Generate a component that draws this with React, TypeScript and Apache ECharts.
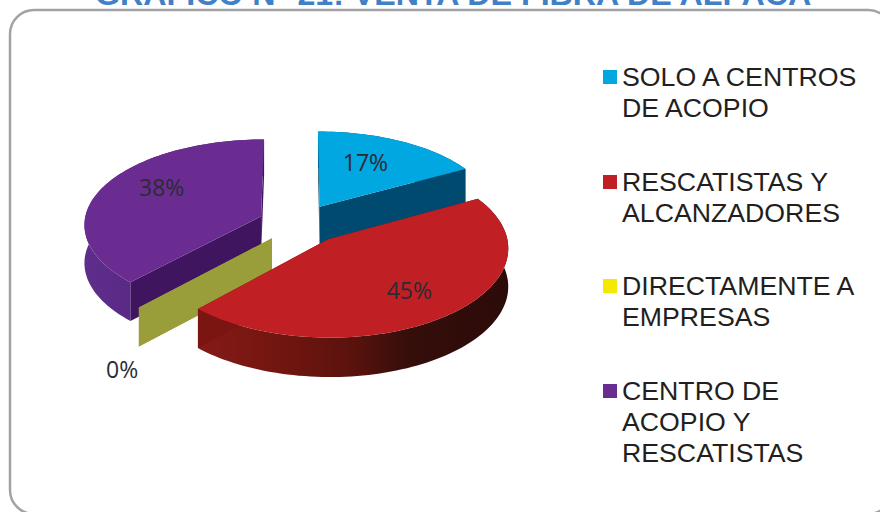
import React, { useEffect, useRef } from "react";
import * as echarts from "echarts";

const TITLE = "GRAFICO N° 21: VENTA DE FIBRA DE ALPACA";
const CATEGORIES = ["SOLO A CENTROS\nDE ACOPIO", "RESCATISTAS Y\nALCANZADORES", "DIRECTAMENTE A\nEMPRESAS", "CENTRO DE\nACOPIO Y\nRESCATISTAS"];
const VALUES = [17, 45, 0, 38];
const LEGEND_COLORS = ["#00a7e1", "#c01f24", "#f5e900", "#6b2c91"];
const TOP_COLORS = ["#00a7e1", "#c01f24", "#9a9e3a", "#6b2c91"];
const EDGE_COLORS = ["#004a70", "#7a1512", "#9a9e3a", "#3f1560"];
const WALL_STOPS: [number, string][][] = [
  [[0, "#004a70"], [1, "#004a70"]],
  [[0, "#861a17"], [0.3, "#6f150f"], [0.5, "#5a120d"], [0.68, "#350e0a"], [1, "#2c0b09"]],
  [[0, "#9a9e3a"], [1, "#9a9e3a"]],
  [[0, "#5f2e8c"], [1, "#4a1c78"]],
];
const PAINT_ORDER = [1, 4, 3, 2];
const LABEL_GROUND = [[0.4, -0.78], [0.585, 0.725], [-0.875, 1.46], [-0.805, -0.44]];
const SLICE_NUDGE = [0, 3, 1.5, 0];
const LEGEND_TOPS = [61, 166, 270, 375];

const CX = 299, CY = 223.6, RX = 177, RY = 85.5, PERSP_X = 0.085, PERSP_Y = 0.095, EXPLODE = 0.232, DEPTH = 38;

function project(u: number, v: number, drop = 0, nudge = 0) {
  const sx = 1 / (1 - PERSP_X * v);
  const sy = 1 / (1 - PERSP_Y * v);
  return [CX + nudge + RX * u * sx, CY + RY * v * sy + drop * (1 + (sy - 1) * 0.3)];
}

function starts(values: number[]) {
  let sum = 0;
  return values.map((v) => {
    const s = sum;
    sum += v;
    return s;
  });
}

function makeRenderItem(index: number) {
  return (_params: any, api: any) => {
    const value = api.value(0);
    const start = api.value(1);
    const total = VALUES.reduce((a, b) => a + b, 0);
    const a0 = (start / total) * Math.PI * 2;
    const a1 = ((start + value) / total) * Math.PI * 2;
    const mid = (a0 + a1) / 2;
    const eu = EXPLODE * Math.sin(mid);
    const ev = -EXPLODE * Math.cos(mid);
    const nudge = SLICE_NUDGE[index];
    const ground = (a: number) => [eu + Math.sin(a), ev - Math.cos(a)];
    const steps = Math.max(1, Math.ceil((a1 - a0) / 0.03));
    const arc: number[][] = [];
    for (let i = 0; i <= steps; i++) arc.push(ground(a0 + ((a1 - a0) * i) / steps));
    const topArc = arc.map(([u, v]) => project(u, v, 0, nudge));
    const lowArc = arc.map(([u, v]) => project(u, v, DEPTH, nudge));
    const apexTop = project(eu, ev, 0, nudge);
    const apexLow = project(eu, ev, DEPTH, nudge);
    const xs = topArc.map((p) => p[0]);
    const minX = Math.min(...xs);
    const maxX = Math.max(...xs);
    const edgeFill = EDGE_COLORS[index];
    const wallFill =
      maxX - minX > 1
        ? new echarts.graphic.LinearGradient(
            0, 0, 1, 0,
            WALL_STOPS[index].map(([offset, color]) => ({ offset, color }))
          )
        : edgeFill;
    const children: any[] = [
      { type: "polygon", shape: { points: [...topArc, ...lowArc.slice().reverse()] }, style: { fill: wallFill } },
      { type: "polygon", shape: { points: [apexTop, topArc[0], lowArc[0], apexLow] }, style: { fill: edgeFill } },
      { type: "polygon", shape: { points: [apexTop, topArc[steps], lowArc[steps], apexLow] }, style: { fill: edgeFill } },
    ];
    if (value > 0) {
      children.push({ type: "polygon", shape: { points: [apexTop, ...topArc] }, style: { fill: TOP_COLORS[index] } });
    }
    const [lx, ly] = project(LABEL_GROUND[index][0], LABEL_GROUND[index][1]);
    children.push({
      type: "text",
      x: lx,
      y: ly,
      style: {
        text: `${value}%`,
        fill: "#2b2b33",
        font: '23px "Open Sans"',
        align: "center",
        verticalAlign: "middle",
      },
    });
    return { type: "group", children };
  };
}

export default function App() {
  const ref = useRef<HTMLDivElement>(null);
  useEffect(() => {
    document.body.style.margin = "0";
    const chart = echarts.init(ref.current!, undefined, { renderer: "svg" });
    const begin = starts(VALUES);
    chart.setOption({
      animation: false,
      backgroundColor: "#ffffff",
      title: {
        text: TITLE,
        left: 95,
        top: -22,
        padding: 0,
        textStyle: { color: "#3f80c6", fontFamily: "Liberation Sans", fontWeight: "bold", fontSize: 32.2 },
      },
      graphic: [
        {
          type: "rect",
          z: 0,
          shape: { x: 10, y: 10, width: 882, height: 504, r: 24 },
          style: { fill: "none", stroke: "#a2a2a6", lineWidth: 2.5 },
        },
        ...CATEGORIES.flatMap((name, i) => [
          {
            type: "rect",
            z: 10,
            shape: { x: 603, y: LEGEND_TOPS[i] + 9, width: 14, height: 14 },
            style: { fill: LEGEND_COLORS[i] },
          },
          {
            type: "text",
            z: 10,
            x: 622,
            y: LEGEND_TOPS[i],
            style: {
              text: name,
              fill: "#231f20",
              font: '26.7px "Liberation Sans"',
              lineHeight: 31,
              verticalAlign: "top",
            },
          },
        ]),
      ],
      series: CATEGORIES.map((name, i) => ({
        type: "custom",
        name,
        coordinateSystem: "none",
        z: PAINT_ORDER[i] + 1,
        silent: true,
        data: [[VALUES[i], begin[i]]],
        renderItem: makeRenderItem(i),
      })),
    });
    return () => chart.dispose();
  }, []);
  return <div ref={ref} style={{ width: 880, height: 512 }} />;
}
